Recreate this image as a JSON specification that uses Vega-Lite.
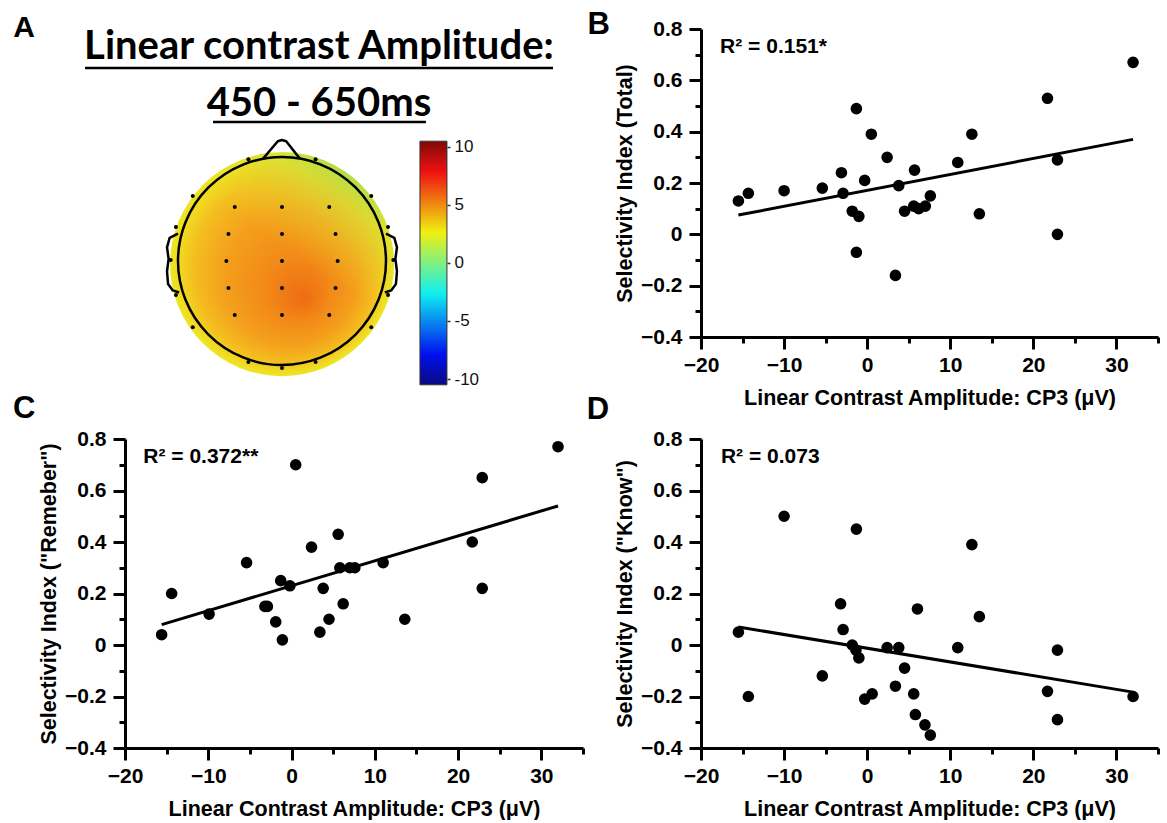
{
  "$schema": "https://vega.github.io/schema/vega-lite/v6.json",
  "padding": {"left": 13, "top": 8, "right": 0, "bottom": 0},
  "background": "white",
  "columns": 2,
  "spacing": {"row": 50, "column": 118},
  "bounds": "flush",
  "config": {
    "view": {"stroke": null},
    "font": "Liberation Sans",
    "axis": {
      "ticks": true, "domain": true,
      "domainColor": "black", "domainWidth": 3, "tickColor": "black", "tickWidth": 3, "tickOpacity": 1,
      "labelColor": "black", "labelFont": "Liberation Sans", "labelFontSize": 21, "labelFontWeight": "bold",
      "titleFont": "Liberation Sans", "titleFontSize": 21.5, "titleFontWeight": "bold", "titleColor": "black",
      "grid": false, "labelOverlap": false, "labelFlush": false
    }
  },
  "datasets": {
    "total": [
      {"amp": -15.5, "si": 0.13}, {"amp": -14.3, "si": 0.16}, {"amp": -10.0, "si": 0.17}, {"amp": -5.4, "si": 0.18},
      {"amp": -3.1, "si": 0.24}, {"amp": -2.9, "si": 0.16}, {"amp": -1.8, "si": 0.09}, {"amp": -1.0, "si": 0.07},
      {"amp": -1.3, "si": 0.49}, {"amp": -1.3, "si": -0.07}, {"amp": -0.3, "si": 0.21}, {"amp": 0.5, "si": 0.39},
      {"amp": 2.4, "si": 0.30}, {"amp": 3.4, "si": -0.16}, {"amp": 3.8, "si": 0.19}, {"amp": 4.5, "si": 0.09},
      {"amp": 5.7, "si": 0.25}, {"amp": 5.6, "si": 0.11}, {"amp": 6.2, "si": 0.10}, {"amp": 7.0, "si": 0.11},
      {"amp": 7.6, "si": 0.15}, {"amp": 10.9, "si": 0.28}, {"amp": 12.6, "si": 0.39}, {"amp": 13.5, "si": 0.08},
      {"amp": 21.7, "si": 0.53}, {"amp": 22.9, "si": 0.29}, {"amp": 22.9, "si": 0.0}, {"amp": 32.0, "si": 0.67}
    ],
    "remember": [
      {"amp": -15.6, "si": 0.04}, {"amp": -14.4, "si": 0.20}, {"amp": -9.9, "si": 0.12}, {"amp": -5.4, "si": 0.32},
      {"amp": -3.2, "si": 0.15}, {"amp": -2.9, "si": 0.15}, {"amp": -1.9, "si": 0.09}, {"amp": -1.3, "si": 0.25},
      {"amp": -1.1, "si": 0.02}, {"amp": -0.2, "si": 0.23}, {"amp": 0.5, "si": 0.70}, {"amp": 2.4, "si": 0.38},
      {"amp": 3.4, "si": 0.05}, {"amp": 3.8, "si": 0.22}, {"amp": 4.5, "si": 0.10}, {"amp": 5.6, "si": 0.43},
      {"amp": 5.8, "si": 0.30}, {"amp": 6.2, "si": 0.16}, {"amp": 7.0, "si": 0.30}, {"amp": 7.6, "si": 0.30},
      {"amp": 11.0, "si": 0.32}, {"amp": 13.6, "si": 0.10}, {"amp": 21.7, "si": 0.40}, {"amp": 22.9, "si": 0.65},
      {"amp": 22.9, "si": 0.22}, {"amp": 32.0, "si": 0.77}
    ],
    "know": [
      {"amp": -15.5, "si": 0.05}, {"amp": -14.3, "si": -0.20}, {"amp": -10.0, "si": 0.50}, {"amp": -5.4, "si": -0.12},
      {"amp": -3.2, "si": 0.16}, {"amp": -2.9, "si": 0.06}, {"amp": -1.8, "si": 0.0}, {"amp": -1.35, "si": -0.02},
      {"amp": -1.0, "si": -0.05}, {"amp": -1.3, "si": 0.45}, {"amp": -0.3, "si": -0.21}, {"amp": 0.6, "si": -0.19},
      {"amp": 2.4, "si": -0.01}, {"amp": 3.4, "si": -0.16}, {"amp": 3.8, "si": -0.01}, {"amp": 4.5, "si": -0.09},
      {"amp": 5.6, "si": -0.19}, {"amp": 5.8, "si": -0.27}, {"amp": 6.05, "si": 0.14}, {"amp": 6.95, "si": -0.31},
      {"amp": 7.6, "si": -0.35}, {"amp": 10.9, "si": -0.01}, {"amp": 12.6, "si": 0.39}, {"amp": 13.5, "si": 0.11},
      {"amp": 21.7, "si": -0.18}, {"amp": 22.9, "si": -0.02}, {"amp": 22.9, "si": -0.29}, {"amp": 32.0, "si": -0.20}
    ],
    "fitB": [{"amp": -15.5, "si": 0.075}, {"amp": 32.0, "si": 0.37}],
    "fitC": [{"amp": -15.6, "si": 0.079}, {"amp": 32.0, "si": 0.54}],
    "fitD": [{"amp": -15.5, "si": 0.07}, {"amp": 32.0, "si": -0.183}],
    "electrodes": [
      {"hx": -0.45, "hy": 0.514}, {"hx": 0, "hy": 0.514}, {"hx": 0.45, "hy": 0.514},
      {"hx": -0.51, "hy": 0.257}, {"hx": 0, "hy": 0.257}, {"hx": 0.51, "hy": 0.257},
      {"hx": -0.53, "hy": 0}, {"hx": 0, "hy": 0}, {"hx": 0.53, "hy": 0},
      {"hx": -0.51, "hy": -0.257}, {"hx": 0, "hy": -0.257}, {"hx": 0.51, "hy": -0.257},
      {"hx": -0.45, "hy": -0.514}, {"hx": 0, "hy": -0.514}, {"hx": 0.45, "hy": -0.514},
      {"hx": -0.32, "hy": 0.97}, {"hx": 0.32, "hy": 0.97},
      {"hx": -0.85, "hy": 0.62}, {"hx": 0.85, "hy": 0.62},
      {"hx": -1.01, "hy": 0.324}, {"hx": 1.01, "hy": 0.324},
      {"hx": -1.06, "hy": 0.01}, {"hx": 1.06, "hy": 0.01},
      {"hx": -1.01, "hy": -0.324}, {"hx": 1.01, "hy": -0.324},
      {"hx": -0.85, "hy": -0.63}, {"hx": 0.85, "hy": -0.63},
      {"hx": -0.32, "hy": -0.962}, {"hx": 0.32, "hy": -0.962},
      {"hx": 0, "hy": -1.02}
    ],
    "outline": [
      {"part": "nose", "ord": 1, "hx": -0.18, "hy": 0.975}, {"part": "nose", "ord": 2, "hx": -0.04, "hy": 1.14},
      {"part": "nose", "ord": 3, "hx": 0, "hy": 1.152}, {"part": "nose", "ord": 4, "hx": 0.04, "hy": 1.14},
      {"part": "nose", "ord": 5, "hx": 0.17, "hy": 0.975},
      {"part": "earL", "ord": 1, "hx": -0.99, "hy": 0.26}, {"part": "earL", "ord": 2, "hx": -1.07, "hy": 0.22},
      {"part": "earL", "ord": 3, "hx": -1.095, "hy": 0.13}, {"part": "earL", "ord": 4, "hx": -1.08, "hy": 0.02},
      {"part": "earL", "ord": 5, "hx": -1.095, "hy": -0.10}, {"part": "earL", "ord": 6, "hx": -1.085, "hy": -0.22},
      {"part": "earL", "ord": 7, "hx": -1.04, "hy": -0.28}, {"part": "earL", "ord": 8, "hx": -0.98, "hy": -0.30},
      {"part": "earR", "ord": 1, "hx": 0.99, "hy": 0.26}, {"part": "earR", "ord": 2, "hx": 1.07, "hy": 0.22},
      {"part": "earR", "ord": 3, "hx": 1.095, "hy": 0.13}, {"part": "earR", "ord": 4, "hx": 1.08, "hy": 0.02},
      {"part": "earR", "ord": 5, "hx": 1.095, "hy": -0.10}, {"part": "earR", "ord": 6, "hx": 1.085, "hy": -0.22},
      {"part": "earR", "ord": 7, "hx": 1.04, "hy": -0.28}, {"part": "earR", "ord": 8, "hx": 0.98, "hy": -0.30}
    ]
  },
  "concat": [
    {
      "width": 458, "height": 360,
      "resolve": {"scale": {"y": "independent"}},
      "layer": [
        {
          "data": {"values": [{"hx": 0, "hy": -0.03}]},
          "mark": {"type": "point", "shape": "circle", "filled": true, "size": 50176, "opacity": 1, "strokeWidth": 0,
            "fill": {"gradient": "radial", "x1": 0.6, "y1": 0.66, "r1": 0, "x2": 0.5, "y2": 0.5, "r2": 0.5,
              "stops": [
                {"offset": 0, "color": "#ee6c12"}, {"offset": 0.3, "color": "#f28a18"},
                {"offset": 0.6, "color": "#f4a01c"}, {"offset": 0.82, "color": "#f4bd1f"},
                {"offset": 0.93, "color": "#f1d821"}, {"offset": 1, "color": "#ece626"}
              ]}},
          "encoding": {
            "x": {"field": "hx", "type": "quantitative", "scale": {"domain": [-1.4952, 2.8667], "nice": false, "zero": false}, "axis": null},
            "y": {"field": "hy", "type": "quantitative", "scale": {"domain": [-1.219, 2.2095], "nice": false, "zero": false}, "axis": null}
          }
        },
        {
          "data": {"values": [{"hx": 0, "hy": -0.03}]},
          "mark": {"type": "point", "shape": "circle", "filled": true, "size": 50176, "opacity": 1, "strokeWidth": 0,
            "fill": {"gradient": "linear", "x1": 0.82, "y1": 0.05, "x2": 0.55, "y2": 0.45,
              "stops": [
                {"offset": 0, "color": "rgba(150,215,90,0.95)"}, {"offset": 0.35, "color": "rgba(205,228,60,0.6)"},
                {"offset": 1, "color": "rgba(240,220,40,0)"}
              ]}},
          "encoding": {
            "x": {"field": "hx", "type": "quantitative", "scale": {"domain": [-1.4952, 2.8667], "nice": false, "zero": false}, "axis": null},
            "y": {"field": "hy", "type": "quantitative", "scale": {"domain": [-1.219, 2.2095], "nice": false, "zero": false}, "axis": null}
          }
        },
        {
          "data": {"values": [{"hx": 0, "hy": 0}]},
          "mark": {"type": "point", "shape": "circle", "filled": false, "size": 43264, "opacity": 1, "color": "black", "strokeWidth": 2.5},
          "encoding": {
            "x": {"field": "hx", "type": "quantitative", "scale": {"domain": [-1.4952, 2.8667], "nice": false, "zero": false}, "axis": null},
            "y": {"field": "hy", "type": "quantitative", "scale": {"domain": [-1.219, 2.2095], "nice": false, "zero": false}, "axis": null}
          }
        },
        {
          "data": {"name": "outline"},
          "mark": {"type": "line", "color": "black", "strokeWidth": 2.5, "strokeJoin": "round"},
          "encoding": {
            "x": {"field": "hx", "type": "quantitative", "scale": {"domain": [-1.4952, 2.8667], "nice": false, "zero": false}, "axis": null},
            "y": {"field": "hy", "type": "quantitative", "scale": {"domain": [-1.219, 2.2095], "nice": false, "zero": false}, "axis": null},
            "detail": {"field": "part"},
            "order": {"field": "ord", "type": "quantitative"}
          }
        },
        {
          "data": {"name": "electrodes"},
          "mark": {"type": "point", "shape": "circle", "filled": true, "size": 16, "opacity": 1, "color": "black", "strokeWidth": 0},
          "encoding": {
            "x": {"field": "hx", "type": "quantitative", "scale": {"domain": [-1.4952, 2.8667], "nice": false, "zero": false}, "axis": null},
            "y": {"field": "hy", "type": "quantitative", "scale": {"domain": [-1.219, 2.2095], "nice": false, "zero": false}, "axis": null}
          }
        },
        {
          "data": {"values": [{"lo": -10.5, "hi": 10.5}]},
          "mark": {"type": "rect", "stroke": "#333333", "strokeWidth": 1,
            "fill": {"gradient": "linear", "x1": 0, "y1": 1, "x2": 0, "y2": 0,
              "stops": [
                {"offset": 0, "color": "#0a0a80"}, {"offset": 0.125, "color": "#0010f0"},
                {"offset": 0.375, "color": "#10f0f0"}, {"offset": 0.5, "color": "#80f080"},
                {"offset": 0.625, "color": "#f0f010"}, {"offset": 0.875, "color": "#f01010"},
                {"offset": 1, "color": "#800808"}
              ]}},
          "encoding": {
            "x": {"datum": 1.314, "type": "quantitative", "scale": {"domain": [-1.4952, 2.8667], "nice": false, "zero": false}, "axis": null},
            "x2": {"datum": 1.571},
            "y": {"field": "lo", "type": "quantitative", "scale": {"domain": [-10.862, 20.172], "nice": false, "zero": false},
              "axis": {"orient": "right", "offset": -136, "values": [-10, -5, 0, 5, 10], "labelExpr": "'' + datum.value",
                "domain": false, "ticks": true, "tickSize": 3, "tickWidth": 1.5, "tickColor": "#333333", "labelPadding": 4,
                "labelFont": "Liberation Sans", "labelFontWeight": "normal", "labelFontSize": 17, "labelColor": "#111111",
                "title": null, "grid": false}},
            "y2": {"field": "hi"}
          }
        },
        {
          "data": {"values": [{}]},
          "mark": {"type": "text", "text": "Linear contrast Amplitude:", "font": "Lato", "fontWeight": "bold", "fontSize": 40, "align": "center", "baseline": "alphabetic", "color": "black"},
          "encoding": {
            "x": {"datum": 0.352, "type": "quantitative", "scale": {"domain": [-1.4952, 2.8667], "nice": false, "zero": false}, "axis": null},
            "y": {"datum": 1.924, "type": "quantitative", "scale": {"domain": [-1.219, 2.2095], "nice": false, "zero": false}, "axis": null}
          }
        },
        {
          "data": {"values": [{}]},
          "mark": {"type": "text", "text": "450 - 650ms", "font": "Lato", "fontWeight": "bold", "fontSize": 40, "align": "center", "baseline": "alphabetic", "color": "black"},
          "encoding": {
            "x": {"datum": 0.352, "type": "quantitative", "scale": {"domain": [-1.4952, 2.8667], "nice": false, "zero": false}, "axis": null},
            "y": {"datum": 1.381, "type": "quantitative", "scale": {"domain": [-1.219, 2.2095], "nice": false, "zero": false}, "axis": null}
          }
        },
        {
          "data": {"values": [{}]},
          "mark": {"type": "rule", "color": "black", "strokeWidth": 2.5},
          "encoding": {
            "x": {"datum": -1.876, "type": "quantitative", "scale": {"domain": [-1.4952, 2.8667], "nice": false, "zero": false}, "axis": null},
            "x2": {"datum": 2.581},
            "y": {"datum": 1.838, "type": "quantitative", "scale": {"domain": [-1.219, 2.2095], "nice": false, "zero": false}, "axis": null}
          }
        },
        {
          "data": {"values": [{}]},
          "mark": {"type": "rule", "color": "black", "strokeWidth": 2.5},
          "encoding": {
            "x": {"datum": -0.657, "type": "quantitative", "scale": {"domain": [-1.4952, 2.8667], "nice": false, "zero": false}, "axis": null},
            "x2": {"datum": 1.371},
            "y": {"datum": 1.324, "type": "quantitative", "scale": {"domain": [-1.219, 2.2095], "nice": false, "zero": false}, "axis": null}
          }
        },
        {
          "data": {"values": [{}]},
          "mark": {"type": "text", "text": "A", "fontSize": 30, "fontWeight": "bold", "align": "center", "baseline": "middle", "color": "black"},
          "encoding": {
            "x": {"datum": -2.457, "type": "quantitative", "scale": {"domain": [-1.4952, 2.8667], "nice": false, "zero": false}, "axis": null},
            "y": {"datum": 2.219, "type": "quantitative", "scale": {"domain": [-1.219, 2.2095], "nice": false, "zero": false}, "axis": null}
          }
        }
      ]
    },
    {
      "width": 457, "height": 308,
      "resolve": {"axis": {"x": "independent", "y": "independent"}},
      "layer": [
        {
          "data": {"name": "total"},
          "mark": {"type": "circle", "size": 135, "color": "black", "opacity": 1},
          "encoding": {
            "x": {"field": "amp", "type": "quantitative", "scale": {"domain": [-20, 35], "nice": false, "zero": false},
              "axis": {"orient": "bottom", "values": [-20, -10, 0, 10, 20, 30], "format": "d", "ticks": true, "tickSize": 12, "tickWidth": 3, "tickColor": "black", "domainWidth": 3,
                "labelPadding": 5, "title": "Linear Contrast Amplitude: CP3 (μV)", "titlePadding": 12}},
            "y": {"field": "si", "type": "quantitative", "scale": {"domain": [-0.4, 0.8], "nice": false, "zero": false},
              "axis": {"orient": "left", "values": [-0.4, -0.2, 0, 0.2, 0.4, 0.6, 0.8], "format": ".1~f", "ticks": true, "tickSize": 12, "tickWidth": 3, "tickColor": "black", "domainWidth": 3,
                "labelPadding": 7, "title": "Selectivity Index (Total)", "titlePadding": 4}}
          }
        },
        {
          "data": {"name": "fitB"},
          "mark": {"type": "line", "color": "black", "strokeWidth": 3},
          "encoding": {
            "x": {"field": "amp", "type": "quantitative",
              "axis": {"orient": "bottom", "values": [-15, -5, 5, 15, 25, 35], "ticks": true, "tickSize": 6, "tickWidth": 3, "tickColor": "black", "labels": false, "domain": false, "title": null}},
            "y": {"field": "si", "type": "quantitative",
              "axis": {"orient": "left", "values": [-0.3, -0.1, 0.1, 0.3, 0.5, 0.7], "ticks": true, "tickSize": 6, "tickWidth": 3, "tickColor": "black", "labels": false, "domain": false, "title": null}}
          }
        },
        {
          "data": {"values": [{}]},
          "mark": {"type": "text", "text": "R² = 0.151*", "align": "left", "baseline": "middle", "fontSize": 21, "fontWeight": "bold", "color": "black"},
          "encoding": {"x": {"datum": -17.7, "type": "quantitative", "axis": null}, "y": {"datum": 0.73, "type": "quantitative", "axis": null}}
        },
        {
          "data": {"values": [{}]},
          "mark": {"type": "text", "text": "B", "align": "center", "baseline": "middle", "fontSize": 31, "fontWeight": "bold", "color": "black"},
          "encoding": {"x": {"datum": -32.3, "type": "quantitative", "axis": null}, "y": {"datum": 0.816, "type": "quantitative", "axis": null}}
        }
      ]
    },
    {
      "width": 458, "height": 309,
      "resolve": {"axis": {"x": "independent", "y": "independent"}},
      "layer": [
        {
          "data": {"name": "remember"},
          "mark": {"type": "circle", "size": 135, "color": "black", "opacity": 1},
          "encoding": {
            "x": {"field": "amp", "type": "quantitative", "scale": {"domain": [-20, 35], "nice": false, "zero": false},
              "axis": {"orient": "bottom", "values": [-20, -10, 0, 10, 20, 30], "format": "d", "ticks": true, "tickSize": 12, "tickWidth": 3, "tickColor": "black", "domainWidth": 3,
                "labelPadding": 5, "title": "Linear Contrast Amplitude: CP3 (μV)", "titlePadding": 12}},
            "y": {"field": "si", "type": "quantitative", "scale": {"domain": [-0.4, 0.8], "nice": false, "zero": false},
              "axis": {"orient": "left", "values": [-0.4, -0.2, 0, 0.2, 0.4, 0.6, 0.8], "format": ".1~f", "ticks": true, "tickSize": 12, "tickWidth": 3, "tickColor": "black", "domainWidth": 3,
                "labelPadding": 7, "title": "Selectivity Index (\"Remeber\")", "titlePadding": 4}}
          }
        },
        {
          "data": {"name": "fitC"},
          "mark": {"type": "line", "color": "black", "strokeWidth": 3},
          "encoding": {
            "x": {"field": "amp", "type": "quantitative",
              "axis": {"orient": "bottom", "values": [-15, -5, 5, 15, 25, 35], "ticks": true, "tickSize": 6, "tickWidth": 3, "tickColor": "black", "labels": false, "domain": false, "title": null}},
            "y": {"field": "si", "type": "quantitative",
              "axis": {"orient": "left", "values": [-0.3, -0.1, 0.1, 0.3, 0.5, 0.7], "ticks": true, "tickSize": 6, "tickWidth": 3, "tickColor": "black", "labels": false, "domain": false, "title": null}}
          }
        },
        {
          "data": {"values": [{}]},
          "mark": {"type": "text", "text": "R² = 0.372**", "align": "left", "baseline": "middle", "fontSize": 21, "fontWeight": "bold", "color": "black"},
          "encoding": {"x": {"datum": -17.8, "type": "quantitative", "axis": null}, "y": {"datum": 0.73, "type": "quantitative", "axis": null}}
        },
        {
          "data": {"values": [{}]},
          "mark": {"type": "text", "text": "C", "align": "center", "baseline": "middle", "fontSize": 31, "fontWeight": "bold", "color": "black"},
          "encoding": {"x": {"datum": -32.1, "type": "quantitative", "axis": null}, "y": {"datum": 0.9165, "type": "quantitative", "axis": null}}
        }
      ]
    },
    {
      "width": 457, "height": 309,
      "resolve": {"axis": {"x": "independent", "y": "independent"}},
      "layer": [
        {
          "data": {"name": "know"},
          "mark": {"type": "circle", "size": 135, "color": "black", "opacity": 1},
          "encoding": {
            "x": {"field": "amp", "type": "quantitative", "scale": {"domain": [-20, 35], "nice": false, "zero": false},
              "axis": {"orient": "bottom", "values": [-20, -10, 0, 10, 20, 30], "format": "d", "ticks": true, "tickSize": 12, "tickWidth": 3, "tickColor": "black", "domainWidth": 3,
                "labelPadding": 5, "title": "Linear Contrast Amplitude: CP3 (μV)", "titlePadding": 12}},
            "y": {"field": "si", "type": "quantitative", "scale": {"domain": [-0.4, 0.8], "nice": false, "zero": false},
              "axis": {"orient": "left", "values": [-0.4, -0.2, 0, 0.2, 0.4, 0.6, 0.8], "format": ".1~f", "ticks": true, "tickSize": 12, "tickWidth": 3, "tickColor": "black", "domainWidth": 3,
                "labelPadding": 7, "title": "Selectivity Index (\"Know\")", "titlePadding": 4}}
          }
        },
        {
          "data": {"name": "fitD"},
          "mark": {"type": "line", "color": "black", "strokeWidth": 3},
          "encoding": {
            "x": {"field": "amp", "type": "quantitative",
              "axis": {"orient": "bottom", "values": [-15, -5, 5, 15, 25, 35], "ticks": true, "tickSize": 6, "tickWidth": 3, "tickColor": "black", "labels": false, "domain": false, "title": null}},
            "y": {"field": "si", "type": "quantitative",
              "axis": {"orient": "left", "values": [-0.3, -0.1, 0.1, 0.3, 0.5, 0.7], "ticks": true, "tickSize": 6, "tickWidth": 3, "tickColor": "black", "labels": false, "domain": false, "title": null}}
          }
        },
        {
          "data": {"values": [{}]},
          "mark": {"type": "text", "text": "R² = 0.073", "align": "left", "baseline": "middle", "fontSize": 21, "fontWeight": "bold", "color": "black"},
          "encoding": {"x": {"datum": -17.6, "type": "quantitative", "axis": null}, "y": {"datum": 0.73, "type": "quantitative", "axis": null}}
        },
        {
          "data": {"values": [{}]},
          "mark": {"type": "text", "text": "D", "align": "center", "baseline": "middle", "fontSize": 31, "fontWeight": "bold", "color": "black"},
          "encoding": {"x": {"datum": -32.4, "type": "quantitative", "axis": null}, "y": {"datum": 0.912, "type": "quantitative", "axis": null}}
        }
      ]
    }
  ]
}
